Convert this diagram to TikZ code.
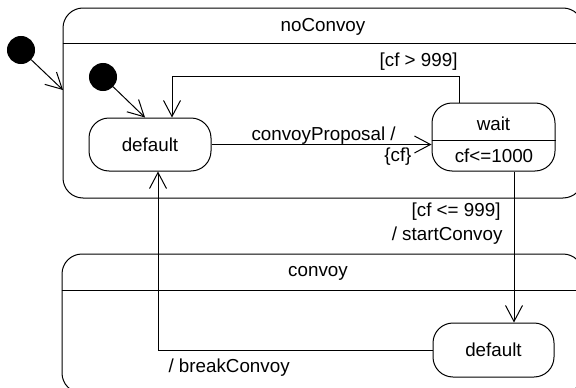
\documentclass[tikz,border=0pt]{standalone}
\usepackage{fontspec}
\setmainfont{Liberation Sans}
\usetikzlibrary{arrows.meta}
\begin{document}
\begin{tikzpicture}[x=1pt,y=-1pt,line width=1pt,
  every node/.style={font=\fontsize{18.8}{22}\selectfont},
  region/.style={draw,rounded corners=20pt,inner sep=0pt},
  stbox/.style={draw,rounded corners=20pt,minimum width=122pt,minimum height=53pt,inner sep=0pt},
  initdot/.style={circle,fill=black,draw=black,minimum size=27pt,inner sep=0pt},
  trans/.style={-{Straight Barb[length=16pt,width=17pt]}},
  lbl/.style={inner sep=0pt}]
\useasboundingbox (0,0) rectangle (576,388);
\clip (0,0) rectangle (576,388);

% composite states
\node[region,minimum width=520pt,minimum height=190pt] (noConvoy) at (323,103) {};
\draw (noConvoy.west |- 0,43) -- (noConvoy.east |- 0,43);
\node[lbl] (noConvoyName) at (323,27) {noConvoy};

\node[region,minimum width=521pt,minimum height=139pt] (convoy) at (322.5,323.5) {};
\draw (convoy.west |- 0,290) -- (convoy.east |- 0,290);
\node[lbl] (convoyName) at (318,273) {convoy};

% initial pseudo states
\node[initdot] (init1) at (21,50) {};
\node[initdot] (init2) at (103,77) {};
\coordinate (ncEntry) at (63,90);

% simple states
\node[stbox] (default1) at (150,144.5) {default};
\node[stbox,minimum width=123pt,minimum height=68pt] (wait) at (493.5,137) {};
\draw (wait.west |- 0,140) -- (wait.east |- 0,140);
\node[lbl] (waitName) at (493.5,124) {wait};
\node[lbl] (waitInv) at (494,156) {cf<=1000};
\node[stbox,minimum width=121pt,minimum height=54pt] (default2) at (493.5,350) {default};

% transitions
\draw[trans] (init1) -- (ncEntry);
\draw[trans] (init2) -- (default1.north -| 145,0);
\draw[trans] (default1.east) -- (default1.east -| wait.west);
\draw[trans] (wait.north -| 459,0) -- ++(0,-26) -| (default1.north -| 172,0);
\draw[trans] (wait.south -| 514,0) -- (default2.north -| 514,0);
\draw[trans] (default2.west) -| (default1.south -| 158,0);

% transition labels
\node[lbl,anchor=east] (lGuardHigh) at (458,62) {[cf > 999]};
\node[lbl,anchor=west] (lProposal) at (251,136) {convoyProposal /};
\node[lbl,anchor=east] (lCf) at (412,157) {\{cf\}};
\node[lbl,anchor=east] (lGuardLow) at (501,212) {[cf <= 999]};
\node[lbl,anchor=east] (lStart) at (503,236) {/ startConvoy};
\node[lbl,anchor=west] (lBreak) at (168,368) {/ breakConvoy};
\end{tikzpicture}
\end{document}
